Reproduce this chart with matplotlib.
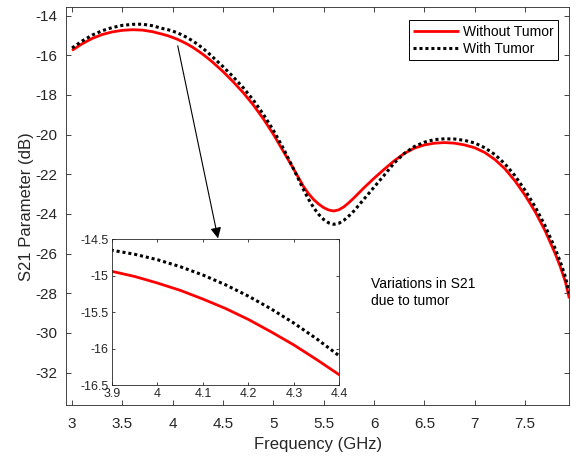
import matplotlib
matplotlib.use("Agg")
import matplotlib.pyplot as plt

plt.rcParams["font.family"] = ["Liberation Sans", "DejaVu Sans"]

# Frequency samples (GHz)
freq = [3.0, 3.1, 3.2, 3.3, 3.4, 3.5, 3.6, 3.7, 3.8, 3.9,
        3.95, 4.0, 4.05, 4.1, 4.15, 4.2, 4.25, 4.3, 4.35, 4.4,
        4.5, 4.6, 4.7, 4.8, 4.9, 5.0, 5.1, 5.2, 5.3, 5.35,
        5.4, 5.45, 5.5, 5.55, 5.6, 5.65, 5.7, 5.75, 5.8, 5.9,
        6.0, 6.1, 6.2, 6.3, 6.4, 6.5, 6.6, 6.7, 6.8, 6.9,
        7.0, 7.1, 7.2, 7.3, 7.4, 7.5, 7.6, 7.7, 7.8, 7.85,
        7.9, 7.94]

s21_no_tumor = [-15.75, -15.42, -15.15, -14.95, -14.82, -14.74, -14.71, -14.73, -14.81, -14.94,
                -15.01, -15.10, -15.20, -15.32, -15.45, -15.60, -15.77, -15.95, -16.15, -16.36,
                -16.82, -17.33, -17.88, -18.50, -19.20, -19.98, -20.85, -21.72, -22.62, -22.98,
                -23.27, -23.50, -23.68, -23.80, -23.85, -23.79, -23.64, -23.43, -23.19, -22.68,
                -22.20, -21.75, -21.32, -20.95, -20.68, -20.52, -20.43, -20.40, -20.43, -20.52,
                -20.66, -20.90, -21.25, -21.72, -22.33, -23.05, -23.88, -24.85, -26.00, -26.65,
                -27.40, -28.25]

s21_tumor = [-15.63, -15.28, -14.98, -14.76, -14.60, -14.49, -14.44, -14.43, -14.51, -14.65,
             -14.705, -14.78, -14.875, -14.99, -15.125, -15.28, -15.455, -15.65, -15.865, -16.10,
             -16.57, -17.08, -17.63, -18.25, -18.97, -19.78, -20.70, -21.72, -22.78, -23.26,
             -23.68, -24.02, -24.28, -24.45, -24.52, -24.47, -24.32, -24.10, -23.85, -23.25,
             -22.65, -22.05, -21.43, -20.95, -20.60, -20.38, -20.25, -20.21, -20.22, -20.29,
             -20.42, -20.66, -21.00, -21.47, -22.07, -22.80, -23.63, -24.60, -25.75, -26.40,
             -27.15, -28.00]

xticks = [3, 3.5, 4, 4.5, 5, 5.5, 6, 6.5, 7, 7.5]
xlabels = ["3", "3.5", "4", "4.5", "5", "5.5", "6", "6.5", "7", "7.5"]
yticks = [-32, -30, -28, -26, -24, -22, -20, -18, -16, -14]
inset_xticks = [3.9, 4.0, 4.1, 4.2, 4.3, 4.4]
inset_xlabels = ["3.9", "4", "4.1", "4.2", "4.3", "4.4"]
inset_yticks = [-16.5, -16, -15.5, -15, -14.5]
inset_ylabels = ["-16.5", "-16", "-15.5", "-15", "-14.5"]

axis_color = "#262626"


def style_axes(ax, size, length, pad):
    """MATLAB-like box with inward ticks on all sides."""
    for sp in ax.spines.values():
        sp.set_color(axis_color)
        sp.set_linewidth(0.6)
    ax.tick_params(direction="in", top=True, right=True, length=length,
                   width=0.6, color=axis_color, labelcolor=axis_color,
                   labelsize=size, pad=pad)


def plot_curves(ax):
    ax.plot(freq, s21_no_tumor, color="red", lw=2.0, label="Without Tumor",
            solid_capstyle="butt", solid_joinstyle="round")
    ax.plot(freq, s21_tumor, color="black", lw=2.2, dashes=(1.0, 0.95),
            dash_capstyle="butt", label="With Tumor")


fig = plt.figure(figsize=(5.72, 4.57), dpi=100)
ax = fig.add_axes([0.1154, 0.1138, 0.8799, 0.8702])
plot_curves(ax)
ax.set_xlim(2.94, 7.94)
ax.set_ylim(-33.63, -13.58)
ax.set_xticks(xticks)
ax.set_xticklabels(xlabels)
ax.set_yticks(yticks)
ax.set_yticklabels([str(v) for v in yticks])
style_axes(ax, 11, 3.6, 6)
ax.tick_params(axis="x", pad=9)
ax.set_xlabel("Frequency (GHz)", fontsize=12, color=axis_color, labelpad=4)
ax.set_ylabel("S21 Parameter (dB)", fontsize=12, color=axis_color, labelpad=1)

leg = ax.legend(loc="upper right", bbox_to_anchor=(0.977, 0.967),
                borderaxespad=0, fontsize=10, handlelength=3.3,
                handletextpad=0.3, labelspacing=0.25, borderpad=0.3,
                fancybox=False, framealpha=1)
leg.get_frame().set_edgecolor("black")
leg.get_frame().set_linewidth(0.7)

ax.text(5.97, -27.95, "Variations in S21\ndue to tumor", fontsize=10,
        va="center", ha="left", color="black", linespacing=1.25)

ax.annotate("", xy=(4.45, -25.23), xytext=(4.05, -15.52),
            arrowprops=dict(arrowstyle="-|>", lw=0.8, color="black",
                            mutation_scale=16, shrinkA=0, shrinkB=0))

# Zoomed inset
ins = fig.add_axes([0.1958, 0.1575, 0.3974, 0.3188])
plot_curves(ins)
ins.set_xlim(3.9, 4.4)
ins.set_ylim(-16.5, -14.5)
ins.set_xticks(inset_xticks)
ins.set_xticklabels(inset_xlabels)
ins.set_yticks(inset_yticks)
ins.set_yticklabels(inset_ylabels)
style_axes(ins, 9, 2.5, 2.5)

fig.savefig("out.png", dpi=100)
